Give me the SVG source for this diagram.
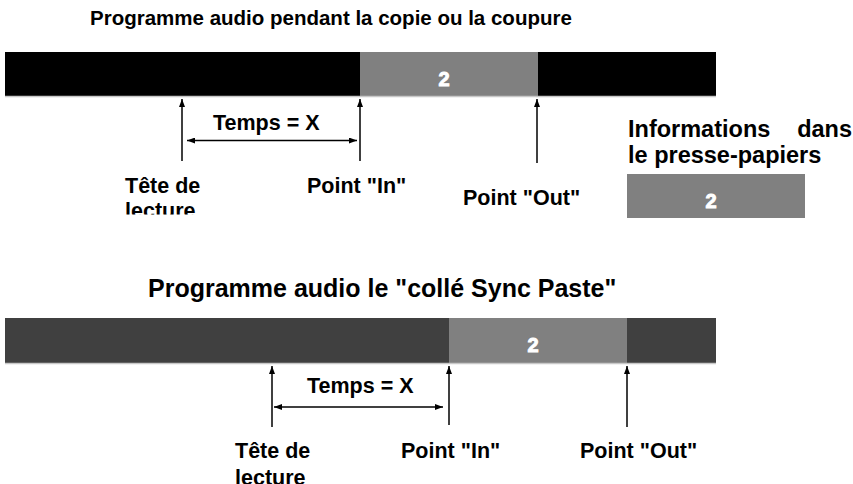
<svg xmlns="http://www.w3.org/2000/svg" width="853" height="484" viewBox="0 0 853 484">
<style>
text{font-family:"Liberation Sans",Arial,sans-serif;font-weight:bold;fill:#000}
.t1{font-size:20.5px}
.t2{font-size:25px}
.lb{font-size:21.5px}
.info{font-size:23.5px}
.num{font-size:20px;fill:#fff;stroke:#fff;stroke-width:1px;text-anchor:middle}
.blk{fill:#000}
.dk{fill:#404040}
.gr{fill:#808080}
.edge{stroke:#c8c8c8;stroke-width:1.5}
.conn{stroke:#000;stroke-width:1.5;fill:none}
</style>
<defs>
<marker id="ah" viewBox="0 0 8 6" markerWidth="8" markerHeight="6" refX="8" refY="3" orient="auto-start-reverse" markerUnits="userSpaceOnUse">
<path d="M0,0 L8,3 L0,6 z" fill="#000"/>
</marker>
<clipPath id="clipTop"><rect x="0" y="0" width="853" height="214.5"/></clipPath>
</defs>

<text id="title1" class="t1" x="90" y="25">Programme audio pendant la copie ou la coupure</text>

<g id="bar1">
<rect class="blk" x="5" y="52" width="355" height="44"/>
<rect class="gr" x="360" y="52" width="178" height="44"/>
<rect class="blk" x="538" y="52" width="178" height="44"/>
<line class="edge" x1="5" y1="96.5" x2="716" y2="96.5"/>
<text class="num" x="444" y="86">2</text>
</g>

<g id="clipboard">
<text class="info" x="628" y="137">Informations<tspan x="852" text-anchor="end">dans</tspan></text>
<text class="info" x="628" y="163">le presse-papiers</text>
<rect class="gr" x="627" y="174" width="178" height="44"/>
<text class="num" x="711" y="208">2</text>
</g>

<g id="labels1">
<text class="lb" x="213" y="130">Temps = X</text>
<g clip-path="url(#clipTop)">
<text class="lb" x="125" y="193">Tête de</text>
<text class="lb" x="125" y="218">lecture</text>
</g>
<text class="lb" x="307" y="193">Point "In"</text>
<text class="lb" x="463" y="205">Point "Out"</text>
</g>

<text id="title2" class="t2" x="148" y="297">Programme audio le "collé Sync Paste"</text>

<g id="bar2">
<rect class="dk" x="5" y="318" width="444" height="45"/>
<rect class="gr" x="449" y="318" width="178" height="45"/>
<rect class="dk" x="627" y="318" width="89" height="45"/>
<line class="edge" x1="5" y1="363.5" x2="716" y2="363.5"/>
<text class="num" x="533" y="352">2</text>
</g>

<g id="labels2">
<text class="lb" x="307" y="393">Temps = X</text>
<text class="lb" x="235" y="458">Tête de</text>
<text class="lb" x="235" y="485">lecture</text>
<text class="lb" x="401" y="458">Point "In"</text>
<text class="lb" x="580" y="458">Point "Out"</text>
</g>

<g id="connectors">
<line class="conn" x1="182" y1="161" x2="182" y2="99" marker-end="url(#ah)"/>
<line class="conn" x1="360" y1="161" x2="360" y2="99" marker-end="url(#ah)"/>
<line class="conn" x1="537" y1="163" x2="537" y2="99" marker-end="url(#ah)"/>
<line class="conn" x1="187" y1="140.5" x2="357" y2="140.5" marker-start="url(#ah)" marker-end="url(#ah)"/>
<line class="conn" x1="272" y1="427" x2="272" y2="366" marker-end="url(#ah)"/>
<line class="conn" x1="449" y1="425" x2="449" y2="366" marker-end="url(#ah)"/>
<line class="conn" x1="627" y1="427" x2="627" y2="366" marker-end="url(#ah)"/>
<line class="conn" x1="274" y1="407" x2="443" y2="407" marker-start="url(#ah)" marker-end="url(#ah)"/>
</g>
</svg>
